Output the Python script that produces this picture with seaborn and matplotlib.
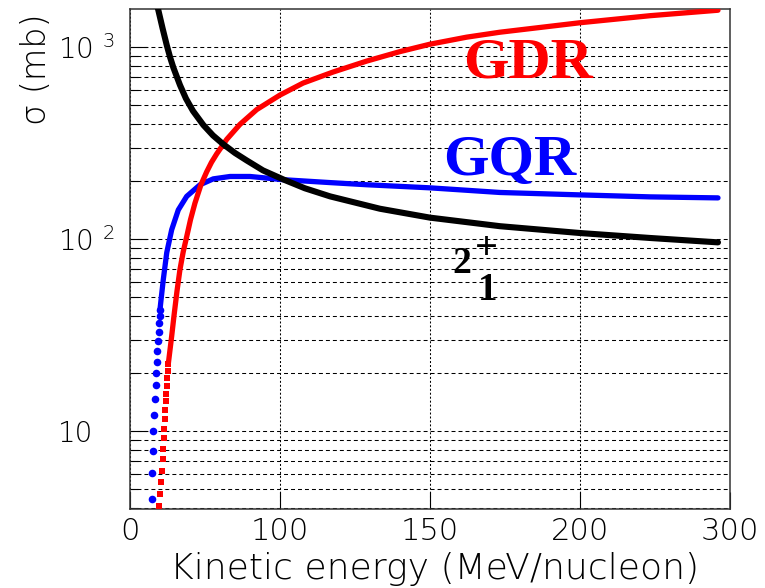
import numpy as np
import pandas as pd
import matplotlib
matplotlib.use("Agg")
import matplotlib.pyplot as plt
import matplotlib.patheffects as pe
import seaborn as sns
from matplotlib import font_manager as fm
from matplotlib.ticker import FixedLocator, NullFormatter

# ---------------- data ----------------
# GQR (blue): isolated dots at low energy, then a continuous curve
gqr_dot_energy = [14.5, 14.8, 15.2, 15.6, 16.0, 16.5, 17.0, 17.5, 17.9, 18.3, 18.7, 19.1, 19.4, 19.7, 20.0]
gqr_dot_sigma = [4.43, 6.05, 7.9, 9.96, 12.2, 14.7, 17.3, 20.0, 22.9, 26.1, 29.6, 32.8, 36.4, 39.7, 43.0]
gqr_energy = [20.0, 20.5, 22.2, 24.5, 27.8, 32.2, 37.8, 46.7, 55.5, 66.7, 80, 101, 116.7, 128.9, 150,
              173.3, 200, 246.7, 292]
gqr_sigma = [43.0, 46.8, 61.6, 85.1, 112, 142, 167, 192, 206, 212, 212, 204, 197, 192, 185,
             175, 170, 166, 164]

# GDR (red)
gdr_dot_energy = [19.5, 20.2, 20.8, 21.3, 21.7, 22.0, 22.4, 22.8, 23.1, 23.4, 23.8, 24.1, 24.5, 24.9, 25.2, 25.5]
gdr_dot_sigma = [4.06, 4.71, 5.41, 6.22, 7.16, 8.06, 9.16, 10.3, 11.6, 12.9, 14.4, 15.6, 17.2, 18.8, 20.6, 22.3]
gdr_energy = [25.5, 27.8, 29.3, 31.3, 33.3, 35.5, 37.8, 40.3, 43.3, 47.3, 51.1, 54.3, 57.8, 64.5, 73.3,
              84.5, 100, 107.7, 117.7, 128.9, 140, 150, 162.2, 173.3, 200, 246.7, 292]
gdr_sigma = [22.3, 31.3, 39.7, 53.4, 69.4, 86.1, 103, 126, 154, 192, 224, 251, 278, 331, 396,
             473, 563, 650, 742, 846, 948, 1036, 1127, 1196, 1340, 1458, 1557]

# 2_1^+ (black)
low_energy = [17.3, 18.9, 21.7, 24.5, 26.7, 28.9, 33.3, 37.3, 42.0, 48.9, 55.3, 62.2, 70.0, 77.8, 88.7,
              101.3, 108.3, 116.7, 133.3, 150, 173.3, 200, 246.7, 292]
low_sigma = [1750, 1557, 1255, 1024, 887, 783, 635, 540, 465, 393, 347, 312, 281, 257, 228,
             204, 184, 167, 144, 129.4, 116.8, 107.6, 101.4, 96.2]

x_ticks = [0, 100, 150, 200, 300]
x_tick_labels = ["0", "100", "150", "200", "300"]
y_ticks = [10, 100, 1000]
y_tick_labels = ["10", r"$10^{\;\,2}$", r"$10^{\;\,3}$"]

# ---------------- style ----------------
sns.set_style("ticks")


def _wnum(w):
    if isinstance(w, (int, float)):
        return w
    return fm.weight_dict.get(str(w).lower(), 400)


def find_light():
    for name in ["DejaVu Sans", "Lato", "Roboto", "Open Sans", "Noto Sans", "Inter"]:
        best = None
        for f in fm.fontManager.ttflist:
            if f.name == name and f.style == "normal" and _wnum(f.weight) <= 300:
                if best is None or _wnum(f.weight) > _wnum(best.weight):
                    best = f
        if best is not None:
            return name, _wnum(best.weight)
    return None, 400


light_name, light_weight = find_light()
if light_name is None:
    light_name = "DejaVu Sans"
    # no light face installed: erode the glyphs a little with a white outline
    thin = [pe.Normal(), pe.Stroke(linewidth=1.1, foreground="white")]
else:
    thin = None

plt.rcParams["font.family"] = [light_name, "DejaVu Sans"]
plt.rcParams["font.weight"] = light_weight
plt.rcParams["mathtext.fontset"] = "custom"
plt.rcParams["mathtext.rm"] = light_name
plt.rcParams["mathtext.it"] = light_name
plt.rcParams["mathtext.bf"] = light_name
for k in ["text.color", "axes.labelcolor", "xtick.color", "ytick.color"]:
    plt.rcParams[k] = "black"

fig = plt.figure(figsize=(7.65, 5.88), dpi=100)
ax = fig.add_axes([130 / 765, 1 - 509 / 588, 600 / 765, 500 / 588])

# piecewise-linear energy axis (tick labels are equally spaced)
_xk = np.array([0.0, 100.0, 150.0, 200.0, 300.0])
_xp = np.array([0.0, 1.0, 2.0, 3.0, 4.0])


def _fwd(x):
    x = np.asarray(x, dtype=float)
    y = np.interp(x, _xk, _xp)
    y = np.where(x < 0, x / 100.0, y)
    y = np.where(x > 300, 4 + (x - 300) / 100.0, y)
    return y


def _inv(y):
    y = np.asarray(y, dtype=float)
    x = np.interp(y, _xp, _xk)
    x = np.where(y < 0, y * 100.0, x)
    x = np.where(y > 4, 300 + (y - 4) * 100.0, x)
    return x


ax.set_xscale("function", functions=(_fwd, _inv))
ax.set_yscale("log")
ax.set_xlim(0, 300)
ax.set_ylim(3.93, 1580)

# grid
ax.xaxis.grid(True, which="major", color="black", lw=0.75, ls=(0, (1.9, 1.9)))
ax.yaxis.grid(True, which="both", color="black", lw=0.75, ls=(0, (3.8, 2.9)))
ax.set_axisbelow(True)

# curves: blue below, red, black on top
sns.scatterplot(x=gqr_dot_energy, y=gqr_dot_sigma, ax=ax, color="#0000ff", marker="o",
                s=30, linewidth=0, zorder=3)
sns.lineplot(x=gqr_energy, y=gqr_sigma, ax=ax, color="#0000ff", lw=3.8, estimator=None,
             sort=False, solid_capstyle="round", solid_joinstyle="round", zorder=3)
sns.scatterplot(x=gdr_dot_energy, y=gdr_dot_sigma, ax=ax, color="#ff0000", marker="s",
                s=17, linewidth=0, zorder=4)
sns.lineplot(x=gdr_energy, y=gdr_sigma, ax=ax, color="#ff0000", lw=3.8, estimator=None,
             sort=False, solid_capstyle="round", solid_joinstyle="round", zorder=4)
sns.lineplot(x=low_energy, y=low_sigma, ax=ax, color="black", lw=4.4, estimator=None,
             sort=False, solid_capstyle="round", solid_joinstyle="round", zorder=5)

# ticks
ax.xaxis.set_major_locator(FixedLocator(x_ticks))
ax.xaxis.set_minor_locator(FixedLocator([]))
ax.set_xticks(x_ticks)
ax.set_xticklabels(x_tick_labels)
ax.set_yticks(y_ticks)
ax.set_yticklabels(y_tick_labels)
ax.yaxis.set_minor_formatter(NullFormatter())
ax.tick_params(axis="x", which="major", direction="in", length=12, width=0.8, color="black",
               labelsize=22, pad=6, top=False)
ax.tick_params(axis="y", which="major", direction="in", length=12, width=0.8, color="black",
               labelsize=20, pad=52, right=False)
ax.tick_params(axis="y", which="minor", direction="in", length=6, width=0.8, color="black",
               right=False)
for lab in ax.get_yticklabels():
    lab.set_horizontalalignment("left")
for lab in ax.get_xticklabels() + ax.get_yticklabels():
    lab.set_fontweight(light_weight)
    if thin:
        lab.set_path_effects(thin)

for sp in ax.spines.values():
    sp.set_color("#333333")
    sp.set_linewidth(1.1)
    sp.set_visible(True)

ax.set_xlabel("Kinetic energy (MeV/nucleon)", fontsize=26, fontweight=light_weight)
ax.xaxis.set_label_coords((434.5 - 130) / 600, (509 - 552.5) / 500)
ax.set_ylabel("σ (mb)", fontsize=24, loc="top", fontweight=light_weight)
ax.yaxis.set_label_coords((53 - 130) / 600, 1 - (13 - 9) / 500)
if thin:
    ax.xaxis.label.set_path_effects(thin)
    ax.yaxis.label.set_path_effects(thin)

# curve labels
serif = ["Liberation Serif", "DejaVu Serif"]
ax.text((528.3 - 130) / 600, (509 - 77.3) / 500, "GDR", transform=ax.transAxes, color="#ff0000",
        fontsize=42, fontweight="bold", family=serif, ha="center", va="baseline")
ax.text((510 - 130) / 600, (509 - 175) / 500, "GQR", transform=ax.transAxes, color="#0000ff",
        fontsize=42, fontweight="bold", family=serif, ha="center", va="baseline")
ax.text((461.5 - 130) / 600, (509 - 273.3) / 500, "2", transform=ax.transAxes, color="black",
        fontsize=27, fontweight="bold", family=serif, ha="center", va="baseline")
ax.text((487.5 - 130) / 600, (509 - 300) / 500, "1", transform=ax.transAxes, color="black",
        fontsize=28, fontweight="bold", family=serif, ha="center", va="baseline")
ax.text((486.5 - 130) / 600, (509 - 259) / 500, "+", transform=ax.transAxes, color="black",
        fontsize=29, fontweight="bold", family=serif, ha="center", va="baseline")

fig.savefig("out.png", dpi=100)
